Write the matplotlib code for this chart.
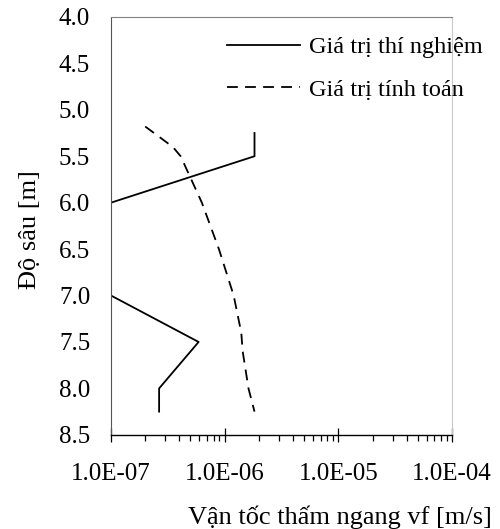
import matplotlib
matplotlib.use("Agg")
import matplotlib.pyplot as plt
from matplotlib.ticker import LogLocator, FixedLocator, NullFormatter
import numpy as np

plt.rcParams["font.family"] = ["Liberation Serif", "DejaVu Serif"]

# measured horizontal seepage velocity vs depth
depth_test = [5.25, 5.5, 6.0, 7.0, 7.5, 8.0, 8.25]
vf_test = [1.83e-6, 1.83e-6, 1.0e-7, 1.0e-7, 5.9e-7, 2.65e-7, 2.65e-7]

# computed values
depth_calc = [5.18, 5.40, 5.50, 6.0, 6.5, 7.0, 7.4, 7.6, 8.0, 8.25]
vf_calc = [2.0e-7, 3.5e-7, 4.1e-7, 6.3e-7, 8.9e-7, 1.2e-6, 1.4e-6, 1.44e-6, 1.62e-6, 1.83e-6]

x_ticks = [1e-7, 1e-6, 1e-5, 1e-4]
x_tick_labels = ["1.0E-07", "1.0E-06", "1.0E-05", "1.0E-04"]
y_ticks = [4.0, 4.5, 5.0, 5.5, 6.0, 6.5, 7.0, 7.5, 8.0, 8.5]

fig = plt.figure(figsize=(5.0, 5.29), dpi=100)
ax = fig.add_axes([0.222, 0.178, 0.682, 0.790])

ax.plot(vf_test, depth_test, color="black", lw=1.3, label="Giá trị thí nghiệm")
ax.plot(vf_calc, depth_calc, color="black", lw=1.3, dashes=(6, 4),
        label="Giá trị tính toán")

ax.set_xscale("log")
ax.set_xlim(1e-7, 1e-4)
ax.set_ylim(8.5, 4.0)

ax.xaxis.set_major_locator(FixedLocator(x_ticks))
ax.set_xticklabels(x_tick_labels)
ax.xaxis.set_minor_locator(LogLocator(base=10, subs=np.arange(2, 10)))
ax.xaxis.set_minor_formatter(NullFormatter())
ax.set_yticks(y_ticks)
ax.set_yticklabels([f"{v:.1f}" for v in y_ticks])

ax.tick_params(axis="x", which="major", direction="inout", length=10,
               width=0.9, labelsize=18, pad=15)
ax.tick_params(axis="x", which="minor", direction="out", length=4.5, width=0.9)
ax.tick_params(axis="y", length=0, labelsize=18, pad=15)

ax.spines["bottom"].set_color("black")
ax.spines["bottom"].set_linewidth(1.0)
ax.spines["left"].set_color("#555555")
ax.spines["top"].set_color("#808080")
ax.spines["right"].set_color("#c8c8c8")

ax.set_xlabel("Vận tốc thấm ngang vf [m/s]", fontsize=19)
ax.xaxis.set_label_coords(0.67, -0.17)
ax.set_ylabel("Độ sâu [m]", fontsize=19)
ax.yaxis.set_label_coords(-0.204, 0.49)

leg = ax.legend(loc="upper left", bbox_to_anchor=(0.313, 0.977), frameon=False,
                fontsize=17.5, handlelength=3.0, handletextpad=0.35,
                labelspacing=0.85, borderaxespad=0)

fig.savefig("out.png", dpi=100)
